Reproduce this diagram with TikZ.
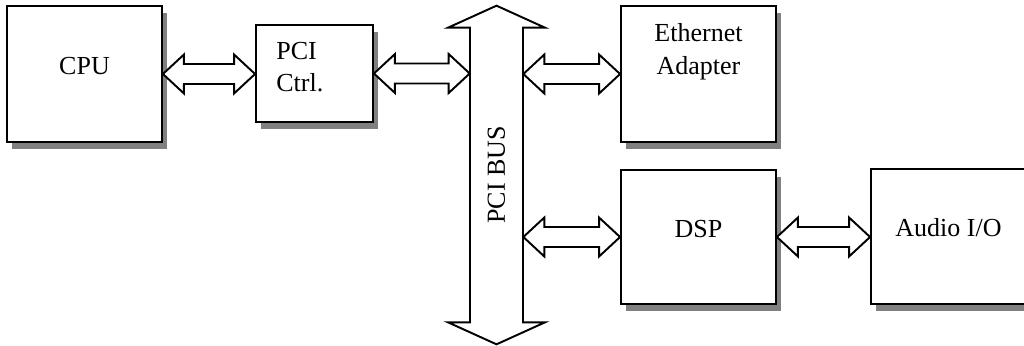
\documentclass[tikz,border=0pt]{standalone}
\usepackage{fontspec}
\setmainfont{Liberation Serif}
\usetikzlibrary{calc, shadows, positioning}
\tikzset{
  box/.style={draw, fill=white, line width=1.1pt, drop shadow={shadow xshift=0.1cm, shadow yshift=-0.14cm, fill=gray, opacity=1}},
  lbl/.style={font=\fontsize{14.8pt}{18.5pt}\selectfont, inner sep=0pt},
  outline/.style={draw, fill=white, line width=1.1pt, line join=miter},
}
\newcommand*{\biarrow}[2]{\draw[outline] let \p1=(#1), \p2=(#2) in
  (\x1,\y1) -- ({\x1+0.42cm},{\y1+0.39cm}) -- ({\x1+0.42cm},{\y1+0.2cm}) -- ({\x2-0.42cm},{\y1+0.2cm}) -- ({\x2-0.42cm},{\y1+0.39cm})
  -- (\x2,\y1) -- ({\x2-0.42cm},{\y1-0.39cm}) -- ({\x2-0.42cm},{\y1-0.2cm}) -- ({\x1+0.42cm},{\y1-0.2cm}) -- ({\x1+0.42cm},{\y1-0.39cm}) -- cycle;}

\begin{document}
\begin{tikzpicture}[x=0.02cm, y=-0.02cm]
 \useasboundingbox (0,0) rectangle (1024,345);
 \clip (0,0) rectangle (1024,345);
 \node[box, minimum width=3.10cm, minimum height=2.72cm] (cpu) at (84.5,74) {};
 \node[box, minimum width=2.34cm, minimum height=1.94cm] (pci) at (314.5,73.5) {};
 \node[box, minimum width=3.10cm, minimum height=2.72cm] (eth) at (698.5,74) {};
 \node[box, minimum width=3.10cm, minimum height=2.68cm] (dsp) at (698.5,237) {};
 \node[box, minimum width=3.10cm, minimum height=2.70cm] (audio) at (948.5,236.5) {};
 \node[inner sep=0pt, minimum width=1.06cm, minimum height=5.88cm] (bus) at (496.5,175) {};

 \draw[outline] let \p1=(bus.north), \p2=(bus.south) in
  (\x1,{\y1+0.44cm}) -- ({\x1+0.97cm},\y1) -- ({\x1+0.53cm},\y1) -- ({\x2+0.53cm},\y2) -- ({\x2+0.97cm},\y2) -- (\x2,{\y2-0.44cm})
  -- ({\x2-0.97cm},\y2) -- ({\x2-0.53cm},\y2) -- ({\x1-0.53cm},\y1) -- ({\x1-0.97cm},\y1) -- cycle;

 \biarrow{cpu.east}{cpu.east -| pci.west}
 \biarrow{pci.east}{pci.east -| bus.west}
 \biarrow{bus.east |- eth.west}{eth.west}
 \biarrow{bus.east |- dsp.west}{dsp.west}
 \biarrow{dsp.east}{audio.west}

 \node[lbl, anchor=base] (cputext) at (cpu.center) {CPU};
 \node[lbl, anchor=base west] (pcitext1) at ($(pci.north west)+(21,35)$) {PCI};
 \node[lbl, anchor=base west] (pcitext2) at ($(pci.north west)+(21,67)$) {Ctrl.};
 \node[lbl, anchor=base] (ethtext1) at ($(eth.north)+(0,36)$) {Ethernet};
 \node[lbl, anchor=base] (ethtext2) at ($(eth.north)+(0,69)$) {Adapter};
 \node[lbl, anchor=base] (dsptext) at (dsp.center) {DSP};
 \node[lbl, anchor=base] (audiotext) at (audio.center) {Audio I/O};
 \node[lbl, rotate=90] (bustext) at (bus.center) {PCI BUS};
\end{tikzpicture}
\end{document}
